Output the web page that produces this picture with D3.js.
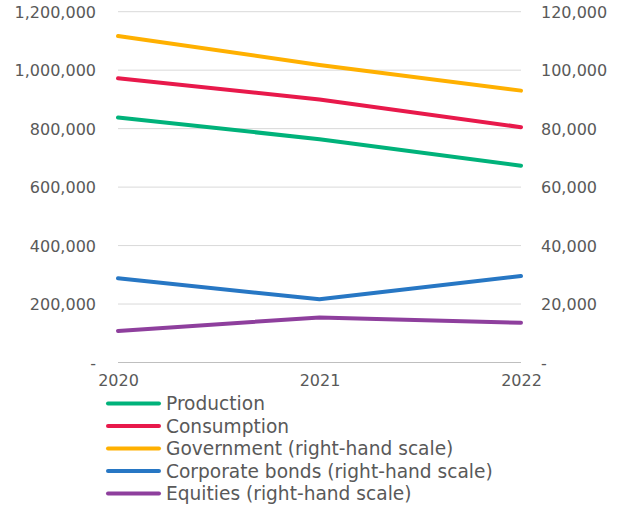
<!DOCTYPE html>
<html><head><meta charset="utf-8">
<script src="https://cdn.jsdelivr.net/npm/d3@7"></script>
<style>body{margin:0;background:#fff;}svg text{font-family:"DejaVu Sans";}</style>
</head><body><svg id="c" width="619" height="506"></svg>
<script>
const years = ["2020","2021","2022"];
const production = [838000, 764000, 673000];
const consumption = [972000, 900000, 805000];
const government = [111700, 101800, 93000];
const corporateBonds = [28800, 21600, 29600];
const equities = [10800, 15400, 13600];
const leftTicks = [0, 200000, 400000, 600000, 800000, 1000000, 1200000];
const rightTicks = [0, 20000, 40000, 60000, 80000, 100000, 120000];

const series = [
  {name:"Production", values:production, axis:"left", color:"#00B27A"},
  {name:"Consumption", values:consumption, axis:"left", color:"#E8194B"},
  {name:"Government (right-hand scale)", values:government, axis:"right", color:"#FFB000"},
  {name:"Corporate bonds (right-hand scale)", values:corporateBonds, axis:"right", color:"#2777C4"},
  {name:"Equities (right-hand scale)", values:equities, axis:"right", color:"#8E3F9D"}
];

const FONT = "DejaVu Sans";
const svg = d3.select("#c");
const x0 = 118, x1 = 521, yTop = 11.7, yBot = 362.5;
const x = d3.scalePoint().domain(years).range([x0, x1]);
const yL = d3.scaleLinear().domain([0, 1200000]).range([yBot, yTop]);
const yR = d3.scaleLinear().domain([0, 120000]).range([yBot, yTop]);
const fmt = v => v === 0 ? "-" : d3.format(",")(v);
const textColor = "#595959";

// gridlines
svg.append("g").selectAll("line").data(leftTicks).join("line")
  .attr("x1", x0).attr("x2", x1)
  .attr("y1", d => yL(d)).attr("y2", d => yL(d))
  .attr("stroke", d => d === 0 ? "#bfbfbf" : "#d9d9d9").attr("stroke-width", 1);

function styleAxis(g) {
  g.attr("font-family", FONT).attr("font-size", 16);
  g.select(".domain").remove();
  g.selectAll("text").attr("fill", textColor)
    .style("font-family", FONT).style("font-size", "16px");
}

// left axis
const la = svg.append("g").attr("transform", `translate(${x0 - 22},0)`)
  .call(d3.axisLeft(yL).tickValues(leftTicks).tickFormat(fmt).tickSize(0).tickPadding(0));
styleAxis(la);
la.selectAll("text").attr("dy", "0.35em");

// right axis
const ra = svg.append("g").attr("transform", `translate(${x1 + 20},0)`)
  .call(d3.axisRight(yR).tickValues(rightTicks).tickFormat(fmt).tickSize(0).tickPadding(0));
styleAxis(ra);
ra.selectAll("text").attr("dy", "0.35em");

// x axis
const xa = svg.append("g").attr("transform", `translate(0,${yBot})`)
  .call(d3.axisBottom(x).tickSize(0).tickPadding(12));
styleAxis(xa);

// lines
series.forEach(s => {
  const ys = s.axis === "left" ? yL : yR;
  const line = d3.line().x((d,i) => x(years[i])).y(d => ys(d));
  svg.append("path").datum(s.values).attr("d", line)
    .attr("fill", "none").attr("stroke", s.color).attr("stroke-width", 4)
    .attr("stroke-linejoin", "round").attr("stroke-linecap", "round");
});

// legend
const lg = svg.append("g").attr("font-family", FONT);
series.forEach((s, i) => {
  const yy = 403.5 + i * 22.5;
  lg.append("line").attr("x1", 108).attr("x2", 159).attr("y1", yy).attr("y2", yy)
    .attr("stroke", s.color).attr("stroke-width", 4).attr("stroke-linecap", "round");
  lg.append("text").attr("x", 166).attr("y", yy).attr("dy", "0.35em")
    .attr("fill", textColor).style("font-family", FONT).style("font-size", "18.6px").text(s.name);
});
</script></body></html>
